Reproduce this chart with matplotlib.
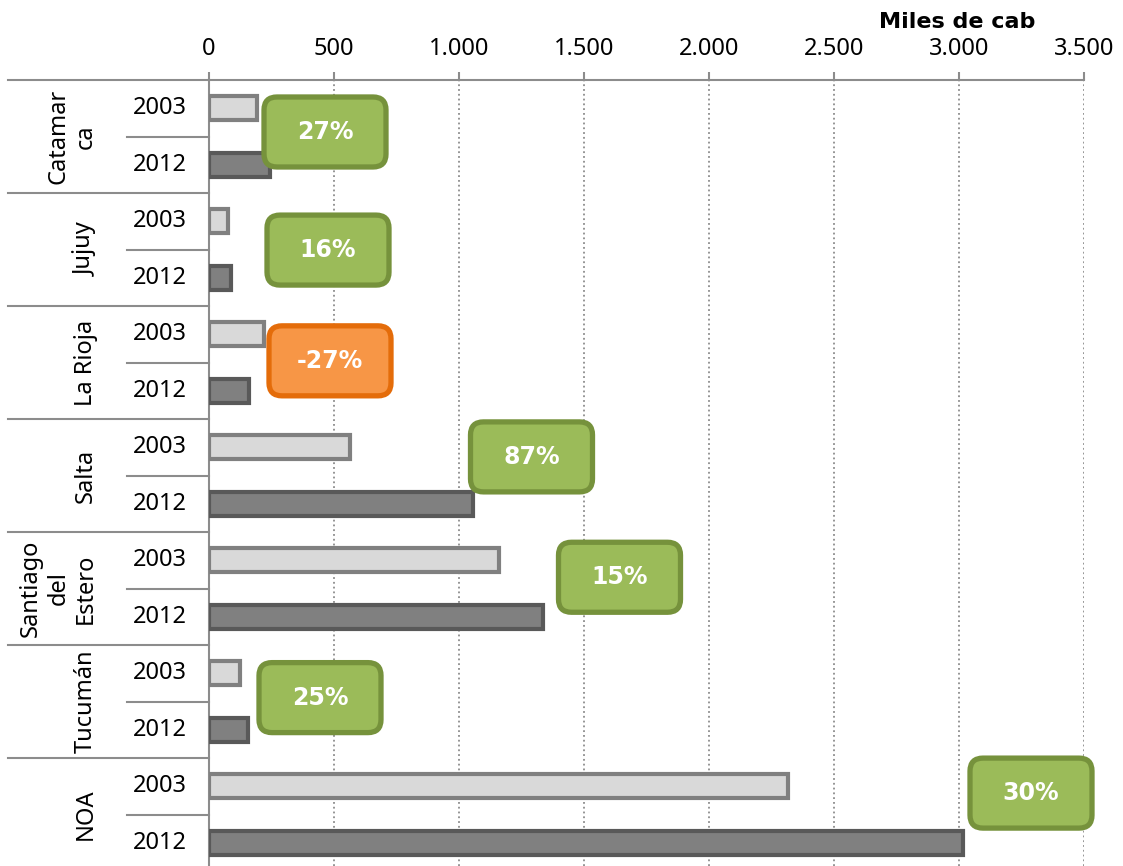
import numpy as np
import matplotlib.pyplot as plt
from matplotlib.patches import FancyBboxPatch
import matplotlib.transforms as mtransforms

plt.rcParams['font.family'] = ['Noto Sans', 'DejaVu Sans']

# datos (miles de cabezas)
provincias = ['Catamar\nca', 'Jujuy', 'La Rioja', 'Salta', 'Santiago\ndel\nEstero', 'Tucumán', 'NOA']
anios = ['2003', '2012']
cab_2003 = [192, 76, 220, 564, 1160, 124, 2316]
cab_2012 = [244, 88, 160, 1056, 1336, 155, 3016]
ticks_x = [0, 500, 1000, 1500, 2000, 2500, 3000, 3500]

# ubicacion de los recuadros de variacion (x en miles de cab, y en filas)
recuadro_x = [464, 476, 484, 1290, 1642, 444, 3288]
recuadro_y = [0.42, 2.51, 4.47, 6.17, 8.30, 10.43, 12.12]

gris_linea = '#8c8c8c'
tam = 17
negrita = ['DejaVu Sans']

fig = plt.figure(figsize=(11.23, 8.66), dpi=100)
ax = fig.add_axes([209 / 1123, 0, 875 / 1123, 786 / 866])

n = len(provincias)
y03 = np.arange(n) * 2
y12 = y03 + 1

ax.barh(y03, cab_2003, height=0.43, color='#d9d9d9', edgecolor='#808080',
        linewidth=3, zorder=3)
ax.barh(y12, cab_2012, height=0.43, color='#808080', edgecolor='#595959',
        linewidth=3, zorder=3)

ax.set_xlim(0, 3500)
ax.set_ylim(2 * n - 0.59, -0.5)
ax.xaxis.tick_top()
ax.set_xticks(ticks_x)
ax.set_xticklabels([f'{t:,.0f}'.replace(',', '.') for t in ticks_x], fontsize=tam)
ax.tick_params(axis='x', direction='out', length=6, width=1.5, color=gris_linea, pad=8)
ax.set_yticks([])
ax.grid(axis='x', linestyle=':', color=gris_linea, linewidth=1.3, zorder=0)

for s in ['right', 'bottom']:
    ax.spines[s].set_visible(False)
for s in ['top', 'left']:
    ax.spines[s].set_color(gris_linea)
    ax.spines[s].set_linewidth(1.5)

# lineas separadoras de la tabla de categorias
ax.plot([-804, 0], [-0.5, -0.5], color=gris_linea, lw=1.5, clip_on=False)
for g in range(n):
    ax.plot([-328, 0], [2 * g + 0.5] * 2, color=gris_linea, lw=1.5, clip_on=False)
    if g < n - 1:
        ax.plot([-804, 0], [2 * g + 1.5] * 2, color=gris_linea, lw=1.5, clip_on=False)
    ax.text(-444, 2 * g + 0.5, provincias[g], rotation=90, ha='right', va='center',
            multialignment='center', fontsize=tam, linespacing=1.2)
    for i, a in enumerate(anios):
        ax.text(-196, 2 * g + i, a, ha='center', va='center', fontsize=tam)

# recuadros con la variacion porcentual
for v03, v12, cx, cy in zip(cab_2003, cab_2012, recuadro_x, recuadro_y):
    var = round((v12 / v03 - 1) * 100)
    if var < 0:
        relleno, borde = '#f79646', '#e46c0a'
    else:
        relleno, borde = '#9bbb59', '#76923c'
    tr = fig.dpi_scale_trans + mtransforms.ScaledTranslation(cx, cy, ax.transData)
    caja = FancyBboxPatch((-0.61, -0.35), 1.22, 0.70,
                          boxstyle='round,pad=0,rounding_size=0.13',
                          facecolor=relleno, edgecolor=borde, linewidth=3.8,
                          transform=tr, clip_on=False, zorder=5)
    ax.add_patch(caja)
    ax.text(cx, cy, f'{var}%', ha='center', va='center', color='white',
            fontsize=17, fontweight='bold', family=negrita, zorder=6)

fig.text(957 / 1123, 1 - 22 / 866, 'Miles de cab', ha='center', va='center',
         fontsize=16, fontweight='bold', family=negrita)

fig.savefig('out.png', dpi=100)
